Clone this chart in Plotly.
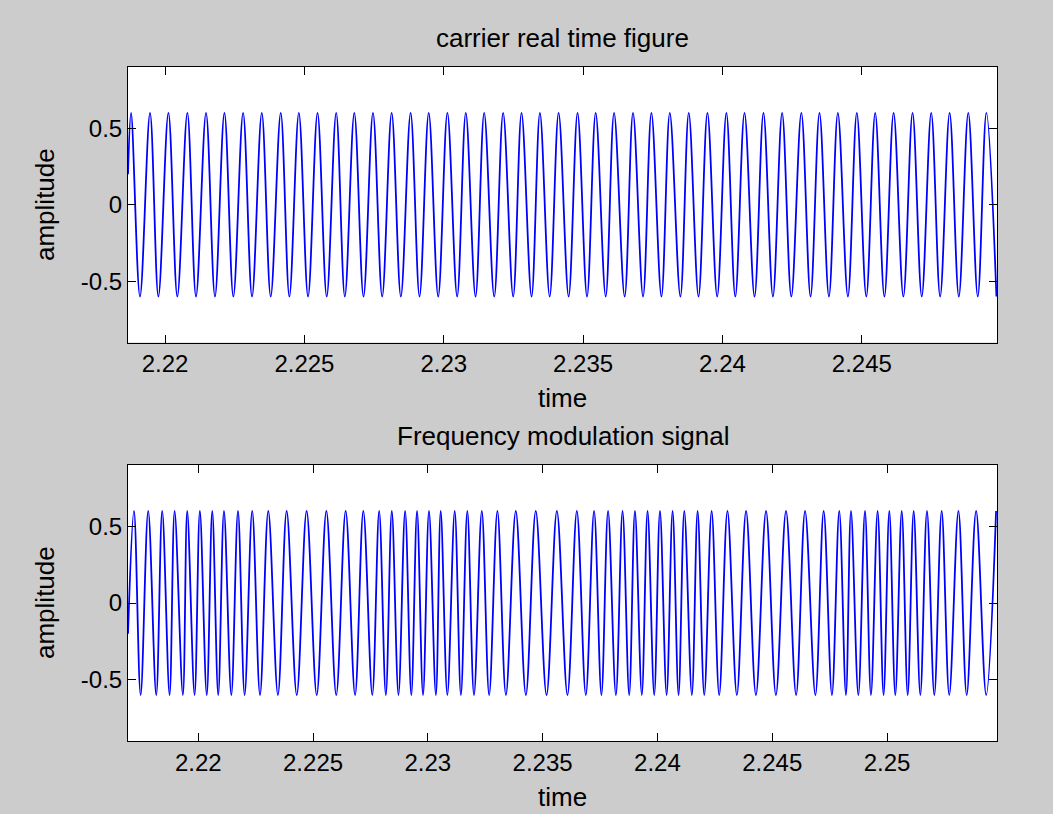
import plotly.graph_objects as go
from plotly.subplots import make_subplots

# ---------------- data ----------------
AMPLITUDE = 0.6

# carrier (top panel): times of the crests and troughs
carrier_peak_t = [
    2.21878, 2.21946, 2.22012, 2.22080, 2.22147, 2.22213, 2.22280, 2.22347, 2.22415, 2.22480,
    2.22547, 2.22614, 2.22679, 2.22746, 2.22813, 2.22881, 2.22946, 2.23013, 2.23079, 2.23145,
    2.23213, 2.23279, 2.23345, 2.23412, 2.23480, 2.23545, 2.23611, 2.23679, 2.23745, 2.23811,
    2.23879, 2.23946, 2.24014, 2.24079, 2.24147, 2.24214, 2.24283, 2.24348, 2.24414, 2.24482,
    2.24548, 2.24614, 2.24682, 2.24749, 2.24815, 2.24882, 2.24947,
]
carrier_trough_t = [
    2.21910, 2.21976, 2.22044, 2.22111, 2.22179, 2.22245, 2.22312, 2.22379, 2.22446, 2.22513,
    2.22580, 2.22645, 2.22712, 2.22779, 2.22846, 2.22913, 2.22980, 2.23048, 2.23114, 2.23181,
    2.23249, 2.23315, 2.23380, 2.23448, 2.23514, 2.23581, 2.23649, 2.23715, 2.23781, 2.23849,
    2.23914, 2.23981, 2.24046, 2.24115, 2.24181, 2.24247, 2.24316, 2.24382, 2.24450, 2.24516,
    2.24581, 2.24649, 2.24715, 2.24781, 2.24848, 2.24916, 2.24983,
]
carrier_start = (2.21867, 0.2)

# FM signal (bottom panel): times of the crests and troughs
fm_peak_t = [
    2.21720, 2.21782, 2.21843, 2.21897, 2.21952, 2.22007, 2.22061, 2.22112, 2.22173, 2.22235,
    2.22305, 2.22385, 2.22472, 2.22558, 2.22642, 2.22719, 2.22788, 2.22843, 2.22901, 2.22953,
    2.23005, 2.23056, 2.23117, 2.23172, 2.23235, 2.23303, 2.23383, 2.23470, 2.23562, 2.23649,
    2.23724, 2.23785, 2.23848, 2.23902, 2.23957, 2.24011, 2.24066, 2.24117, 2.24175, 2.24236,
    2.24305, 2.24386, 2.24473, 2.24560, 2.24643, 2.24724, 2.24792, 2.24843, 2.24904, 2.24959,
    2.25010, 2.25064, 2.25116, 2.25174, 2.25238, 2.25311, 2.25388, 2.25475,
]
fm_trough_t = [
    2.21749, 2.21817, 2.21875, 2.21933, 2.21984, 2.22037, 2.22087, 2.22144, 2.22202, 2.22269,
    2.22347, 2.22429, 2.22516, 2.22601, 2.22683, 2.22758, 2.22817, 2.22872, 2.22928, 2.22979,
    2.23035, 2.23085, 2.23144, 2.23201, 2.23267, 2.23340, 2.23427, 2.23517, 2.23608, 2.23688,
    2.23756, 2.23819, 2.23877, 2.23932, 2.23986, 2.24040, 2.24092, 2.24150, 2.24204, 2.24269,
    2.24346, 2.24429, 2.24516, 2.24604, 2.24688, 2.24760, 2.24821, 2.24875, 2.24930, 2.24985,
    2.25036, 2.25090, 2.25145, 2.25206, 2.25271, 2.25347, 2.25432,
]
fm_start = (2.21694, -0.2)

# axis limits and ticks
top_xrange = [2.21867, 2.24985]
bottom_xrange = [2.21694, 2.25479]
yrange = [-0.9, 0.9]
top_xtick_vals = [2.22, 2.225, 2.23, 2.235, 2.24, 2.245]
top_xtick_text = ["2.22", "2.225", "2.23", "2.235", "2.24", "2.245"]
bottom_xtick_vals = [2.22, 2.225, 2.23, 2.235, 2.24, 2.245, 2.25]
bottom_xtick_text = ["2.22", "2.225", "2.23", "2.235", "2.24", "2.245", "2.25"]
ytick_vals = [-0.5, 0, 0.5]
ytick_text = ["-0.5", "0", "0.5"]

titles = ["carrier real time figure", "Frequency modulation signal"]
xlabel = "time"
ylabel = "amplitude"


def build(start, peaks, troughs, amp):
    pts = [start] + [(t, amp) for t in peaks] + [(t, -amp) for t in troughs]
    pts.sort(key=lambda p: p[0])
    return [p[0] for p in pts], [p[1] for p in pts]


cx, cy = build(carrier_start, carrier_peak_t, carrier_trough_t, AMPLITUDE)
fx, fy = build(fm_start, fm_peak_t, fm_trough_t, AMPLITUDE)

# ---------------- figure ----------------
W, H = 1053, 814
ML, MR, MT, MB = 128, 56, 67, 73
PH = H - MT - MB
FONT = "Liberation Sans, Arial, Helvetica, sans-serif"

fig = make_subplots(rows=2, cols=1)
line_style = dict(color="#0000ff", width=1.8, shape="spline", smoothing=1.0)
fig.add_trace(go.Scatter(x=cx, y=cy, mode="lines", line=line_style, showlegend=False,
                         hoverinfo="skip"), row=1, col=1)
fig.add_trace(go.Scatter(x=fx, y=fy, mode="lines", line=line_style, showlegend=False,
                         hoverinfo="skip"), row=2, col=1)

def py(pix):
    return (H - MB - pix) / PH

axis_common = dict(showline=True, linecolor="black", linewidth=1, mirror="ticks",
                   ticks="inside", ticklen=8, tickwidth=1, tickcolor="black",
                   showgrid=False, zeroline=False,
                   tickfont=dict(family=FONT, size=24, color="black"))

fig.update_xaxes(**axis_common)
fig.update_yaxes(**axis_common)
fig.update_xaxes(range=top_xrange, tickvals=top_xtick_vals, ticktext=top_xtick_text,
                 domain=[0, 1], row=1, col=1)
fig.update_xaxes(range=bottom_xrange, tickvals=bottom_xtick_vals, ticktext=bottom_xtick_text,
                 domain=[0, 1], row=2, col=1)
fig.update_yaxes(range=yrange, tickvals=ytick_vals, ticktext=ytick_text, row=1, col=1,
                 domain=[py(342.5), 1.0])
fig.update_yaxes(range=yrange, tickvals=ytick_vals, ticktext=ytick_text, row=2, col=1,
                 domain=[0.0, py(465)])

ann = []
txt = dict(family=FONT, size=26, color="black")
ann.append(dict(text=titles[0], x=0.5, y=py(38), xref="paper", yref="paper",
                showarrow=False, font=txt, xanchor="center", yanchor="middle"))
ann.append(dict(text=titles[1], x=0.5, y=py(436), xref="paper", yref="paper",
                showarrow=False, font=txt, xanchor="center", yanchor="middle"))
ann.append(dict(text=xlabel, x=0.5, y=py(398), xref="paper", yref="paper",
                showarrow=False, font=txt, xanchor="center", yanchor="middle"))
ann.append(dict(text=xlabel, x=0.5, y=py(797), xref="paper", yref="paper",
                showarrow=False, font=txt, xanchor="center", yanchor="middle"))
ax_pos = (45 - ML) / (W - ML - MR)
ann.append(dict(text=ylabel, x=ax_pos, y=py(205), xref="paper", yref="paper",
                showarrow=False, font=txt, xanchor="center", yanchor="middle", textangle=-90))
ann.append(dict(text=ylabel, x=ax_pos, y=py(603), xref="paper", yref="paper",
                showarrow=False, font=txt, xanchor="center", yanchor="middle", textangle=-90))

fig.update_layout(width=W, height=H, autosize=False,
                  margin=dict(l=ML, r=MR, t=MT, b=MB, pad=0),
                  paper_bgcolor="#cccccc", plot_bgcolor="white",
                  annotations=ann, showlegend=False)

fig.write_html("out.html")
